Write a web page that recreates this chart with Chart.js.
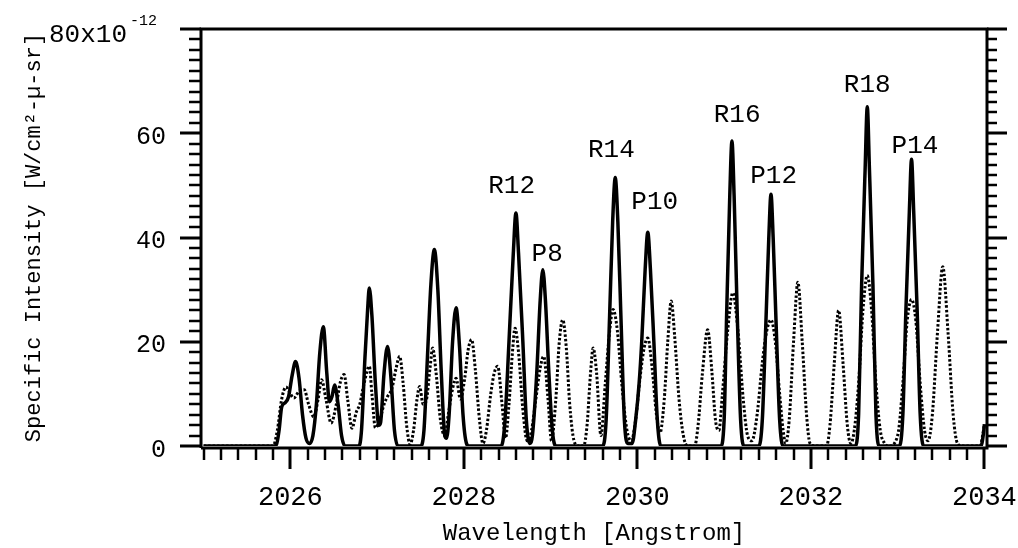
<!DOCTYPE html>
<html>
<head>
<meta charset="utf-8">
<script src="https://cdn.jsdelivr.net/npm/chart.js@4.4.0/dist/chart.umd.min.js"></script>
<style>
  html, body { margin: 0; padding: 0; background: #fff; }
  #wrap { width: 1018px; height: 548px; }
</style>
</head>
<body>
<div id="wrap"><canvas id="myChart" width="1018" height="548"></canvas></div>
<script>
// solid trace: wavelength [Angstrom] / intensity [x1e-12 W/cm2-um-sr]
const solidWl = [
    2025.00, 2025.80, 2025.84, 2025.87, 2025.90, 2025.94, 2025.98, 2026.02, 2026.06, 2026.10, 2026.14, 2026.18, 2026.22,
    2026.26, 2026.30, 2026.34, 2026.38, 2026.42, 2026.45, 2026.48, 2026.51, 2026.55, 2026.59, 2026.63,
    2026.79, 2026.82, 2026.86, 2026.89, 2026.91, 2026.94, 2026.98, 2027.02, 2027.04, 2027.08, 2027.12, 2027.16, 2027.20, 2027.24,
    2027.50, 2027.54, 2027.58, 2027.62, 2027.66, 2027.70, 2027.74, 2027.78, 2027.80, 2027.83, 2027.87, 2027.91, 2027.95, 2027.99, 2028.03, 2028.06,
    2028.43, 2028.47, 2028.52, 2028.57, 2028.60, 2028.63, 2028.68, 2028.72, 2028.76, 2028.79, 2028.84, 2028.88, 2028.91, 2028.94, 2028.98, 2029.02, 2029.06,
    2029.60, 2029.64, 2029.68, 2029.715, 2029.745, 2029.775, 2029.81, 2029.85, 2029.89, 2029.94, 2029.98, 2030.02, 2030.05, 2030.09, 2030.12, 2030.15, 2030.19, 2030.23, 2030.27,
    2030.96, 2031.00, 2031.03, 2031.065, 2031.09, 2031.115, 2031.15, 2031.19, 2031.23,
    2031.40, 2031.44, 2031.48, 2031.515, 2031.54, 2031.565, 2031.60, 2031.64, 2031.68,
    2032.51, 2032.55, 2032.585, 2032.625, 2032.65, 2032.675, 2032.715, 2032.75, 2032.79,
    2033.02, 2033.06, 2033.095, 2033.135, 2033.16, 2033.185, 2033.225, 2033.26, 2033.30,
    2033.96, 2033.99, 2034.00
];
const solidInt = [
    0, 0, 0.3, 3, 7.5, 8.3, 9.5, 13.5, 16.2, 13, 6, 1.5, 0.5,
    2, 8, 18, 22.9, 14, 8.5, 9.5, 11.7, 8, 2, 0,
    0, 3, 17, 26, 30.3, 25, 12, 4, 4.5, 14, 19.1, 13, 3, 0,
    0, 3, 17, 31, 37.7, 30, 14, 2, 1.5, 6, 20, 26.5, 19, 6, 0.5, 0,
    0, 4, 20, 37, 44.7, 37, 20, 5, 0.5, 2, 14, 28, 33.8, 28, 14, 3, 0,
    0, 5, 25, 43, 51.5, 43, 25, 5, 0.5, 0.5, 5, 12, 20, 34, 41, 34, 20, 5, 0,
    0, 5, 26, 48, 58.5, 48, 26, 5, 0,
    0, 5, 23, 40, 48.3, 40, 23, 5, 0,
    0, 6, 31, 53, 65.1, 53, 31, 6, 0,
    0, 6, 26, 45, 55, 45, 26, 6, 0,
    0, 2.5, 4.2
];

// dotted trace
const dottedWl = [
    2025.00, 2025.80, 2025.85, 2025.90, 2025.95, 2026.00, 2026.04, 2026.10, 2026.16, 2026.21, 2026.27, 2026.32, 2026.36,
    2026.41, 2026.47, 2026.53, 2026.58, 2026.62, 2026.66, 2026.71, 2026.76, 2026.80, 2026.85, 2026.91, 2026.94, 2026.98,
    2027.03, 2027.08, 2027.12, 2027.17, 2027.22, 2027.26, 2027.30, 2027.34, 2027.38, 2027.42, 2027.46, 2027.49, 2027.53,
    2027.57, 2027.61, 2027.64, 2027.68, 2027.73, 2027.78,
    2027.82, 2027.87, 2027.91, 2027.96, 2028.01, 2028.05, 2028.09, 2028.13, 2028.18, 2028.22, 2028.26, 2028.31, 2028.35,
    2028.39, 2028.44, 2028.48, 2028.52, 2028.56, 2028.59, 2028.63, 2028.68, 2028.73,
    2028.78, 2028.83, 2028.88, 2028.92, 2028.97, 2029.01, 2029.06, 2029.10, 2029.14, 2029.18, 2029.22, 2029.27, 2029.32,
    2029.38, 2029.42, 2029.46, 2029.49, 2029.53, 2029.58, 2029.63, 2029.68, 2029.72, 2029.77, 2029.82, 2029.88, 2029.93,
    2029.98, 2030.03, 2030.08, 2030.12, 2030.17, 2030.22, 2030.26,
    2030.31, 2030.35, 2030.39, 2030.43, 2030.48, 2030.53, 2030.58, 2030.66, 2030.70, 2030.75, 2030.81, 2030.86, 2030.90,
    2030.94, 2030.98, 2031.04, 2031.10, 2031.16, 2031.22, 2031.27,
    2031.32, 2031.38, 2031.44, 2031.49, 2031.54, 2031.59, 2031.64, 2031.68, 2031.71, 2031.75, 2031.80, 2031.85, 2031.90,
    2031.95, 2031.99, 2032.05,
    2032.18, 2032.22, 2032.27, 2032.32, 2032.37, 2032.42, 2032.46, 2032.50, 2032.55, 2032.60, 2032.65, 2032.70, 2032.75,
    2032.80, 2032.85, 2032.90,
    2033.00, 2033.06, 2033.11, 2033.16, 2033.21, 2033.26, 2033.31, 2033.35, 2033.40, 2033.46, 2033.52, 2033.58, 2033.64,
    2033.69, 2033.75, 2033.95, 2033.98, 2034.00
];
const dottedInt = [
    0, 0, 3, 9, 11.3, 10, 9.2, 10.5, 10.8, 8, 5.6, 9, 12.7,
    9, 4.4, 8, 12.5, 13.7, 9, 3.4, 6.5, 8, 12, 15.3, 10, 3.5,
    5, 8, 9.5, 11, 15, 17.2, 12, 4, 0.3, 3, 9, 11.4, 8,
    9, 15, 18.8, 14, 5, 2,
    6, 11, 13, 9, 13, 18.5, 20.4, 15, 5, 0.5, 3, 10, 14,
    15.3, 8, 1.5, 8, 18, 22.6, 18, 7, 1,
    3, 9, 15, 17.2, 9, 1, 9, 20, 24.2, 19, 8, 1, 0,
    0, 4, 14, 18.8, 14, 2, 12, 22, 26.2, 22, 12, 3, 1,
    5, 13, 19, 20.7, 15, 6, 2.5,
    9, 20, 27.8, 21, 9, 2, 0, 0, 4, 14, 22.3, 14, 5,
    3, 10, 22, 29.4, 22, 9, 2,
    1, 6, 16, 22, 24.2, 20, 10, 3, 0.5, 5, 20, 31.4, 20,
    6, 0.5, 0,
    0, 4, 16, 26, 16, 4, 0.5, 3, 12, 26, 32.7, 26, 12,
    3, 0.5, 0,
    2, 12, 24, 28.1, 24, 12, 3, 1, 6, 22, 34.4, 22, 6,
    0.5, 0, 0, 2, 4.2
];

const xTickLabels = [2026, 2028, 2030, 2032, 2034];
const yTickLabels = [0, 20, 40, 60, 80];

// line labels and where they sit (data coords)
const peakNames = ['R12', 'P8', 'R14', 'P10', 'R16', 'P12', 'R18', 'P14'];
const labelWl = [2028.55, 2028.96, 2029.70, 2030.20, 2031.15, 2031.57, 2032.65, 2033.20];
const labelInt = [49.9, 36.8, 56.8, 46.7, 63.5, 51.8, 69.3, 57.6];

const mono = "'Liberation Mono', 'Courier New', monospace";

const frame = {
    id: 'frame',
    afterDraw(chart) {
        const ctx = chart.ctx;
        const a = chart.chartArea;
        const xs = chart.scales.x, ys = chart.scales.y;
        const axisY = a.bottom + 2; // bottom axis sits a hair under zero
        ctx.save();
        ctx.strokeStyle = '#000';
        ctx.lineCap = 'butt';

        // box
        ctx.lineWidth = 3;
        ctx.beginPath();
        ctx.moveTo(a.left, axisY);
        ctx.lineTo(a.left, a.top);
        ctx.lineTo(a.right, a.top);
        ctx.lineTo(a.right, axisY);
        ctx.lineTo(a.left, axisY);
        ctx.stroke();

        // x ticks, minor every 0.2
        for (let i = 0; i <= 45; i++) {
            const px = Math.round(xs.getPixelForValue(2025 + i * 0.2));
            const major = i % 10 === 5;
            ctx.lineWidth = major ? 3 : 2.5;
            ctx.beginPath();
            ctx.moveTo(px, axisY);
            ctx.lineTo(px, axisY + (major ? 21 : 12));
            ctx.stroke();
        }
        // y ticks left and right, minor every 2
        for (let i = 0; i <= 40; i++) {
            const py = Math.round(ys.getPixelForValue(i * 2));
            const major = i % 10 === 0;
            ctx.lineWidth = major ? 3 : 2.5;
            ctx.beginPath();
            ctx.moveTo(a.left, py);
            ctx.lineTo(a.left - (major ? 21 : 12), py);
            ctx.moveTo(a.right, py);
            ctx.lineTo(a.right + (major ? 20 : 10), py);
            ctx.stroke();
        }

        ctx.fillStyle = '#000';
        // top label with exponent
        const topY = ys.getPixelForValue(80);
        ctx.textBaseline = 'middle';
        ctx.textAlign = 'right';
        ctx.font = '26px ' + mono;
        ctx.fillText('80x10', a.left - 74, topY + 6);
        ctx.textAlign = 'left';
        ctx.font = '15px ' + mono;
        ctx.fillText('-12', a.left - 71, topY - 8);

        // line labels
        ctx.textAlign = 'center';
        ctx.font = '26px ' + mono;
        peakNames.forEach((n, i) => {
            ctx.fillText(n, xs.getPixelForValue(labelWl[i]), ys.getPixelForValue(labelInt[i]));
        });
        ctx.restore();
    }
};

const data = {
    datasets: [{
        label: 'solid',
        data: solidWl.map((w, i) => ({x: w, y: solidInt[i]})),
        borderColor: '#000',
        borderWidth: 3.5,
        borderJoinStyle: 'round',
        pointRadius: 0,
        tension: 0.4,
        cubicInterpolationMode: 'monotone'
    }, {
        label: 'dotted',
        data: dottedWl.map((w, i) => ({x: w, y: dottedInt[i]})),
        borderColor: '#000',
        borderWidth: 3,
        borderDash: [2.5, 2],
        pointRadius: 0,
        tension: 0.4,
        cubicInterpolationMode: 'monotone'
    }]
};

// empty axes that only reserve the margins above and right of the plot
const spacer = {display: true, grid: {display: false, drawTicks: false}, border: {display: false}, ticks: {display: false, padding: 0}};

const config = {
    type: 'line',
    data: data,
    options: {
        responsive: false,
        animation: false,
        layout: {padding: 0},
        plugins: {legend: {display: false}, tooltip: {enabled: false}},
        scales: {
            x: {
                type: 'linear',
                min: 2024.97,
                max: 2034.03,
                // invisible tick marks only push the labels down
                grid: {display: false, drawTicks: true, tickLength: 36},
                border: {display: false},
                afterBuildTicks: s => { s.ticks = xTickLabels.map(v => ({value: v})); },
                afterFit: s => { s.height = 102; },
                ticks: {
                    font: {family: mono, size: 27},
                    color: '#000',
                    padding: 0,
                    maxRotation: 0,
                    autoSkip: false,
                    callback: v => String(v)
                },
                title: {
                    display: true,
                    text: 'Wavelength [Angstrom]',
                    font: {family: mono, size: 24},
                    color: '#000',
                    padding: {top: 0, bottom: 0}
                }
            },
            xTop: Object.assign({type: 'linear', position: 'top', afterFit: s => { s.height = 29; }}, spacer),
            y: {
                min: 0,
                max: 80,
                grid: {display: false, drawTicks: true, tickLength: 35},
                border: {display: false},
                afterBuildTicks: s => { s.ticks = yTickLabels.map(v => ({value: v})); },
                afterFit: s => { s.width = 201; },
                ticks: {
                    font: {family: mono, size: 25},
                    color: '#000',
                    padding: 0,
                    labelOffset: 4,
                    callback: v => v === 80 ? '' : String(v)
                },
                title: {
                    display: true,
                    text: 'Specific Intensity [W/cm²-µ-sr]',
                    font: {family: mono, size: 22},
                    color: '#000',
                    padding: {top: 21, bottom: 0}
                }
            },
            yRight: Object.assign({type: 'linear', position: 'right', afterFit: s => { s.width = 31; }}, spacer)
        }
    },
    plugins: [frame]
};

// =================

var ctx = document.getElementById('myChart');
const myChart = new Chart(ctx, config);
</script>
</body>
</html>
